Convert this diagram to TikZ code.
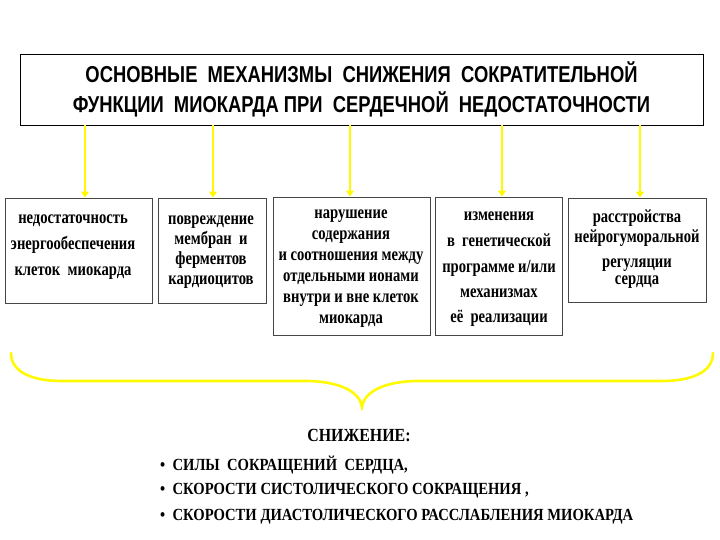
\documentclass[tikz,border=0pt]{standalone}
\usepackage{fontspec}
\setmainfont{Liberation Serif}
\newfontfamily\titlefont[FakeStretch=0.8]{Liberation Sans}
\newfontfamily\boxfont[FakeStretch=0.79]{Liberation Serif}
\newfontfamily\lowfont[FakeStretch=0.86]{Liberation Serif}
\usetikzlibrary{arrows.meta}
\definecolor{yel}{RGB}{255,250,0}
\definecolor{frame}{RGB}{70,70,70}
\tikzset{
  titlebox/.style={draw=black, line width=0.9pt, minimum width=683pt, minimum height=71pt,
    inner sep=0pt, align=center, font=\titlefont\bfseries\fontsize{23}{30}\selectfont},
  mechbox/.style={draw=frame, line width=0.9pt, inner sep=0pt},
  mechtext/.style={inner sep=0pt, align=center,
    font=\boxfont\bfseries\fontsize{18.5}{20}\selectfont},
  yarrow/.style={draw=yel, line width=2.6pt, -{Triangle[width=8pt,length=6pt]}},
  bracestyle/.style={draw=yel, line width=2.6pt, line cap=round},
  lowtext/.style={font=\lowfont\bfseries\fontsize{17}{20}\selectfont, inner sep=0pt}
}
\begin{document}
\begin{tikzpicture}[x=1pt,y=-1pt]
\useasboundingbox (0,0) rectangle (720,540);
\node[titlebox] (title) at (361.5,89.5)
  {ОСНОВНЫЕ\ \ МЕХАНИЗМЫ\ \ СНИЖЕНИЯ\ \ СОКРАТИТЕЛЬНОЙ\\
   ФУНКЦИИ\ \ МИОКАРДА\ ПРИ\ \ СЕРДЕЧНОЙ\ \ НЕДОСТАТОЧНОСТИ};
% boxes
\node[mechbox, minimum width=147pt, minimum height=105pt] (b1) at (78.5,250.5) {};
\node[mechbox, minimum width=108pt, minimum height=105pt] (b2) at (212,250.5) {};
\node[mechbox, minimum width=157pt, minimum height=138pt] (b3) at (351.5,266) {};
\node[mechbox, minimum width=127pt, minimum height=138pt] (b4) at (498.5,266) {};
\node[mechbox, minimum width=138pt, minimum height=104pt] (b5) at (637,250) {};
% texts
\node[mechtext] (t1) at (73,247)
  {недостаточность\\[6pt] энергообеспечения\\[6pt] клеток\ \ миокарда};
\node[mechtext] (t2) at (211,252)
  {повреждение\\ мембран\ \ и\\ ферментов\\ кардиоцитов};
\node[mechtext] (t3) at (351,268.5)
  {нарушение\\[1pt] содержания\\[1pt] и соотношения между\\[1pt] отдельными ионами\\[1pt] внутри и вне клеток\\[1pt] миокарда};
\node[mechtext] (t4) at (499,269.5)
  {изменения\\[6pt] в\ \ генетической\\[6pt] программе и/или\\[5pt] механизмах\\[5pt] её\ \ реализации};
\node[mechtext] (t5) at (637,249)
  {расстройства\\ нейрогуморальной\\[5pt] регуляции\\[-3pt] сердца};
% arrows
\draw[yarrow] ([xshift=6.5pt]b1.north |- title.south) -- ([xshift=6.5pt]b1.north);
\draw[yarrow] ([xshift=1pt]b2.north |- title.south) -- ([xshift=1pt]b2.north);
\draw[yarrow] ([xshift=-1.5pt]b3.north |- title.south) -- ([xshift=-1.5pt]b3.north);
\draw[yarrow] ([xshift=3.5pt]b4.north |- title.south) -- ([xshift=3.5pt]b4.north);
\draw[yarrow] ([xshift=3pt]b5.north |- title.south) -- ([xshift=3pt]b5.north);
% brace
\coordinate (brL) at (11,353);
\coordinate (brR) at (713,353);
\coordinate (brTip) at (362,407);
\draw[bracestyle] (brL) .. controls (11,372) and (32,381) .. (62,381) -- (305,381)
  .. controls (340,381) and (360,392) .. (brTip)
  .. controls (364,392) and (384,381) .. (419,381) -- (662,381)
  .. controls (692,381) and (713,372) .. (brR);
% result
\node[lowtext, font=\lowfont\bfseries\fontsize{18.5}{20}\selectfont] (res) at (359,436) {СНИЖЕНИЕ:};
\node[lowtext, anchor=west] (r1) at (160,465) {•\ \ СИЛЫ\ \ СОКРАЩЕНИЙ\ \ СЕРДЦА,};
\node[lowtext, anchor=west] (r2) at (160,491) {•\ \ СКОРОСТИ СИСТОЛИЧЕСКОГО СОКРАЩЕНИЯ ,};
\node[lowtext, anchor=west] (r3) at (160,517) {•\ \ СКОРОСТИ ДИАСТОЛИЧЕСКОГО РАССЛАБЛЕНИЯ МИОКАРДА};
\end{tikzpicture}
\end{document}
